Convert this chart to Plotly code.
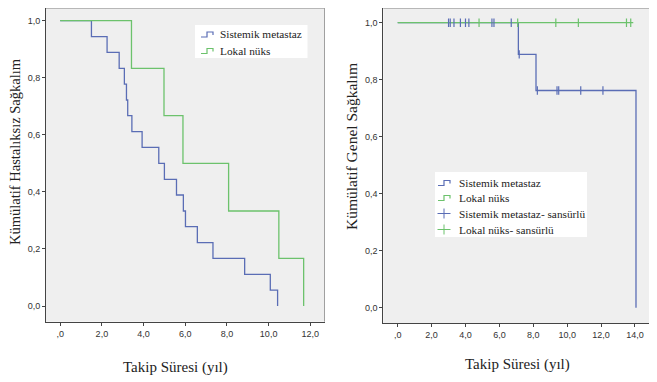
import plotly.graph_objects as go

# page body has an 8px margin, so the figure is shrunk and shifted by that amount
OFF = 8
W, H = 657 - OFF, 382 - OFF

# ---------------- data ----------------
# Left panel: disease-free survival (Kaplan-Meier steps)
dfs_sm_time = [0, 1.50, 2.25, 2.83, 3.08, 3.18, 3.24, 3.44, 3.93, 4.73, 5.00,
               5.58, 5.91, 6.01, 6.58, 7.33, 8.85, 10.08, 10.43]
dfs_sm_surv = [1.0, 0.944, 0.889, 0.833, 0.778, 0.722, 0.667, 0.611, 0.556, 0.5,
               0.444, 0.389, 0.333, 0.278, 0.222, 0.167, 0.111, 0.056, 0.0]
dfs_ln_time = [0, 3.42, 4.98, 5.89, 8.08, 10.49, 11.68]
dfs_ln_surv = [1.0, 0.833, 0.667, 0.5, 0.333, 0.167, 0.0]

# Right panel: overall survival
os_sm_time = [0, 7.12, 8.16, 14.06]
os_sm_surv = [1.0, 0.889, 0.762, 0.0]
os_ln_time = [0, 13.9]
os_ln_surv = [1.0, 1.0]
os_sm_cens_time = [3.0, 3.1, 3.32, 3.7, 4.0, 4.2, 5.56, 5.68, 6.7, 7.17,
                   8.24, 9.40, 9.50, 10.8, 12.11]
os_sm_cens_surv = [1.0, 1.0, 1.0, 1.0, 1.0, 1.0, 1.0, 1.0, 1.0, 0.889,
                   0.762, 0.762, 0.762, 0.762, 0.762]
os_ln_cens_time = [4.8, 7.08, 9.33, 10.66, 13.5, 13.75]
os_ln_cens_surv = [1.0, 1.0, 1.0, 1.0, 1.0, 1.0]

x_ticks_left = [0, 2, 4, 6, 8, 10, 12]
x_ticks_right = [0, 2, 4, 6, 8, 10, 12, 14]
x_labels_left = [",0", "2,0", "4,0", "6,0", "8,0", "10,0", "12,0"]
x_labels_right = [",0", "2,0", "4,0", "6,0", "8,0", "10,0", "12,0", "14,0"]
y_ticks = [0, 0.2, 0.4, 0.6, 0.8, 1.0]
y_labels = ["0,0", "0,2", "0,4", "0,6", "0,8", "1,0"]

names = ["Sistemik metastaz", "Lokal nüks",
         "Sistemik metastaz- sansürlü", "Lokal nüks- sansürlü"]
ylab_left = "Kümülatif Hastalıksız Sağkalım"
ylab_right = "Kümülatif Genel Sağkalım"
xlab = "Takip Süresi (yıl)"

BLUE = "#5a6db5"
GREEN = "#6cc26c"
SERIF = "Liberation Serif, Times New Roman, serif"
SANS = "Liberation Sans, Arial, sans-serif"


def px(x):
    return min(max((x - OFF) / W, 0.0), 1.0)


def py(y):
    return min(max(1 - (y - OFF) / H, 0.0), 1.0)


fig = go.Figure()

# Left panel traces
fig.add_trace(go.Scatter(x=dfs_sm_time, y=dfs_sm_surv, mode="lines", line_shape="hv",
                         line=dict(color=BLUE, width=1.3), name=names[0],
                         xaxis="x", yaxis="y", showlegend=False))
fig.add_trace(go.Scatter(x=dfs_ln_time, y=dfs_ln_surv, mode="lines", line_shape="hv",
                         line=dict(color=GREEN, width=1.3), name=names[1],
                         xaxis="x", yaxis="y", showlegend=False))

# Right panel traces
fig.add_trace(go.Scatter(x=os_sm_time, y=os_sm_surv, mode="lines", line_shape="hv",
                         line=dict(color=BLUE, width=1.3), name=names[0],
                         xaxis="x2", yaxis="y2", showlegend=False))
fig.add_trace(go.Scatter(x=os_ln_time, y=os_ln_surv, mode="lines", line_shape="hv",
                         line=dict(color=GREEN, width=1.3), name=names[1],
                         xaxis="x2", yaxis="y2", showlegend=False))
fig.add_trace(go.Scatter(x=os_sm_cens_time, y=os_sm_cens_surv, mode="markers",
                         marker=dict(symbol="line-ns-open", size=6, color=BLUE,
                                     line=dict(color=BLUE, width=1.2)),
                         name=names[2], xaxis="x2", yaxis="y2", showlegend=False))
fig.add_trace(go.Scatter(x=os_ln_cens_time, y=os_ln_cens_surv, mode="markers",
                         marker=dict(symbol="line-ns-open", size=6, color=GREEN,
                                     line=dict(color=GREEN, width=1.2)),
                         name=names[3], xaxis="x2", yaxis="y2", showlegend=False))

axis_common = dict(showgrid=False, zeroline=False, showline=True, linecolor="#444",
                   linewidth=1, ticks="outside", ticklen=3, tickcolor="#444",
                   tickfont=dict(family=SANS, size=9, color="#333"))

fig.update_layout(
    width=W, height=H, margin=dict(l=0, r=0, t=0, b=0),
    paper_bgcolor="white", plot_bgcolor="#efefef",
    xaxis=dict(domain=[px(46), px(324.5)], range=[-0.68, 12.68], anchor="y",
               tickvals=x_ticks_left, ticktext=x_labels_left, **axis_common),
    yaxis=dict(domain=[py(321.7), py(8)], range=[-0.055, 1.0445], anchor="x",
               tickvals=y_ticks, ticktext=y_labels, **axis_common),
    xaxis2=dict(domain=[px(383.3), 1.0], range=[-0.85, 15.3], anchor="y2",
                tickvals=x_ticks_right, ticktext=x_labels_right, **axis_common),
    yaxis2=dict(domain=[py(323.3), py(8)], range=[-0.055, 1.0516], anchor="x2",
                tickvals=y_ticks, ticktext=y_labels, **axis_common),
)

shapes = []
# frame lines (top/right) of the plot areas
shapes.append(dict(type="line", xref="x domain", yref="y domain", x0=0, x1=1, y0=1, y1=1,
                   line=dict(color="#808080", width=1)))
shapes.append(dict(type="line", xref="x domain", yref="y domain", x0=1, x1=1, y0=0, y1=1,
                   line=dict(color="#a0a0a0", width=1)))
shapes.append(dict(type="line", xref="x2 domain", yref="y2 domain", x0=0, x1=1, y0=1, y1=1,
                   line=dict(color="#808080", width=1)))

# Legend boxes
shapes.append(dict(type="rect", xref="paper", yref="paper", x0=px(195), x1=px(307.5),
                   y0=py(58), y1=py(25), fillcolor="white", line=dict(width=0), layer="above"))
shapes.append(dict(type="rect", xref="paper", yref="paper", x0=px(435), x1=px(587),
                   y0=py(237), y1=py(172), fillcolor="white", line=dict(width=0), layer="above"))


def step_icon(x0, yc, color):
    pts = [(x0, yc + 2.5), (x0 + 6, yc + 2.5), (x0 + 6, yc - 2.5), (x0 + 12, yc - 2.5),
           (x0 + 12, yc + 0.5)]
    path = "M " + " L ".join(f"{px(a):.5f},{py(b):.5f}" for a, b in pts)
    return dict(type="path", xref="paper", yref="paper", path=path,
                line=dict(color=color, width=1.2), layer="above")


def plus_icon(x0, yc, color):
    return [dict(type="line", xref="paper", yref="paper", x0=px(x0), x1=px(x0 + 13),
                 y0=py(yc), y1=py(yc), line=dict(color=color, width=1), layer="above"),
            dict(type="line", xref="paper", yref="paper", x0=px(x0 + 6.5), x1=px(x0 + 6.5),
                 y0=py(yc - 5), y1=py(yc + 5), line=dict(color=color, width=1), layer="above")]


shapes.append(step_icon(201, 34.5, BLUE))
shapes.append(step_icon(201, 51, GREEN))
shapes.append(step_icon(438, 183, BLUE))
shapes.append(step_icon(438, 198, GREEN))
shapes += plus_icon(437.5, 213.5, BLUE)
shapes += plus_icon(437.5, 229.5, GREEN)
fig.update_layout(shapes=shapes)

ann = []


def text(x, y, s, size=12, xanchor="left", angle=0):
    ann.append(dict(xref="paper", yref="paper", x=px(x), y=py(y), text=s, showarrow=False,
                    xanchor=xanchor, yanchor="middle", textangle=angle,
                    font=dict(family=SERIF, size=size, color="#222")))


LEG = 11.3
text(218, 34.5, names[0], size=LEG)
text(218, 51, names[1], size=LEG)
text(457, 183, names[0], size=LEG)
text(457, 198, names[1], size=LEG)
text(457, 213.5, names[2], size=LEG)
text(457, 229.5, names[3], size=LEG)

text(175, 367, xlab, size=15, xanchor="center")
text(517, 364, xlab, size=15, xanchor="center")
text(15, 152, ylab_left, size=14.5, xanchor="center", angle=-90)
text(352, 147, ylab_right, size=15.5, xanchor="center", angle=-90)
fig.update_layout(annotations=ann)

fig.write_html("out.html")
